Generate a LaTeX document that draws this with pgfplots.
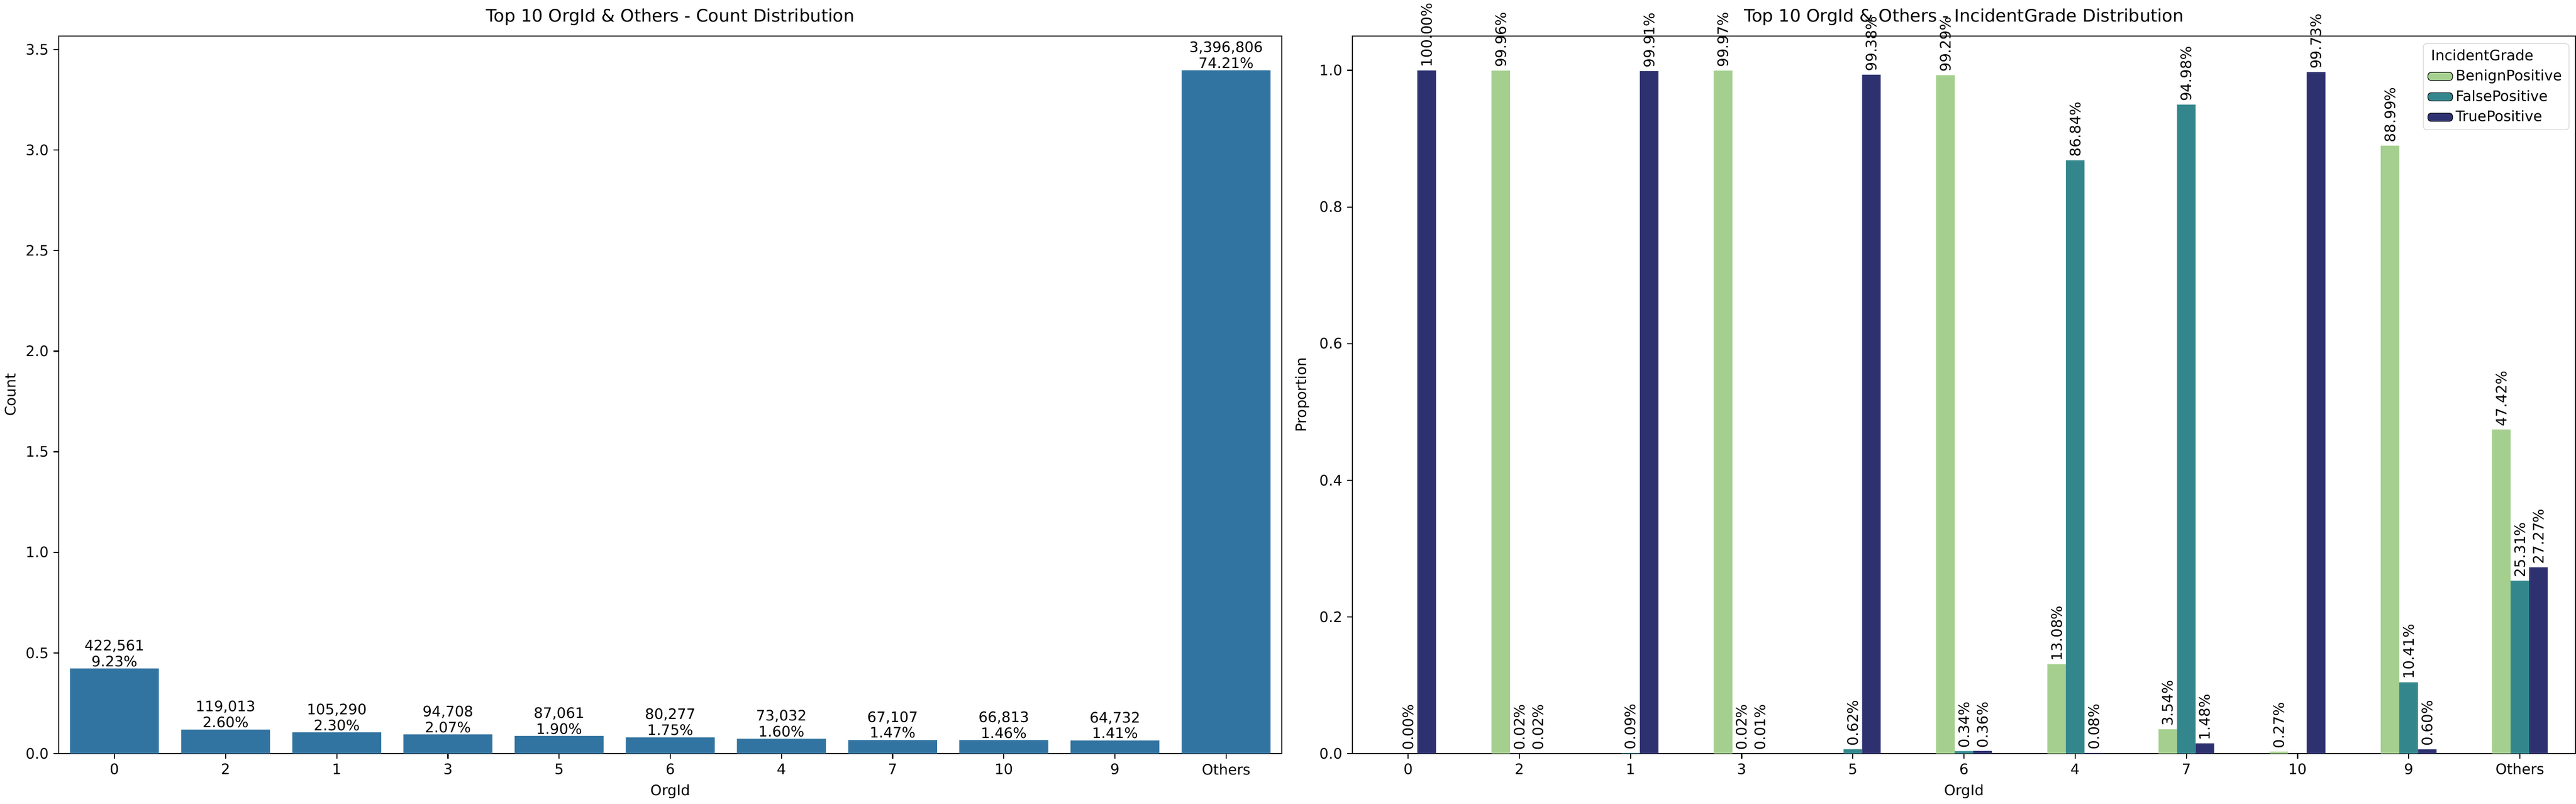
\documentclass[border=0pt]{standalone}
\usepackage{pgfplots}
\pgfplotsset{compat=1.18}
\usepackage{fontspec}
\setmainfont{DejaVu Sans}
\definecolor{cbar}{HTML}{3274A1}
\definecolor{cbp}{HTML}{A5CF8F}
\definecolor{cfp}{HTML}{33878C}
\definecolor{ctp}{HTML}{2E3170}
\pgfplotsset{
  base/.style={
    scale only axis, width=846pt, height=496pt,
    xmin=-0.5, xmax=10.5, xtick={0,...,10},
    xticklabels={0,2,1,3,5,6,4,7,10,9,Others},
    tick label style={font=\fontsize{10}{12}\selectfont},
    label style={font=\fontsize{10}{12}\selectfont},
    title style={font=\fontsize{12}{14}\selectfont, yshift=-2pt},
    /pgf/number format/assume math mode=true,
    tick align=outside, tick pos=left, major tick length=3.5pt,
    xlabel={OrgId}, axis line style={line width=0.8pt},
    every tick/.style={black, line width=0.8pt},
  }
}
\begin{document}
\begin{tikzpicture}
\begin{axis}[base, at={(0pt,0pt)},
  ymin=0, ymax=3566000,
  ytick={0,500000,1000000,1500000,2000000,2500000,3000000,3500000},
  yticklabels={0.0,0.5,1.0,1.5,2.0,2.5,3.0,3.5},
  scaled y ticks=false,
  ylabel={Count},
  title={Top 10 OrgId \& Others - Count Distribution},
  ybar, bar width=0.8, bar shift=0,
  nodes near coords, point meta=explicit symbolic,
  every node near coord/.append style={font=\fontsize{10}{11}\selectfont, align=center, inner sep=1pt},
]
\addplot[fill=cbar, draw=none] coordinates {
 (0,422561) [{422,561\\9.23\%}]
 (1,119013) [{119,013\\2.60\%}]
 (2,105290) [{105,290\\2.30\%}]
 (3,94708) [{94,708\\2.07\%}]
 (4,87061) [{87,061\\1.90\%}]
 (5,80277) [{80,277\\1.75\%}]
 (6,73032) [{73,032\\1.60\%}]
 (7,67107) [{67,107\\1.47\%}]
 (8,66813) [{66,813\\1.46\%}]
 (9,64732) [{64,732\\1.41\%}]
 (10,3396806) [{3,396,806\\74.21\%}]
};
\node[anchor=south west, font=\fontsize{10}{12}\selectfont, inner sep=1pt] at (rel axis cs:0,1) {1e6};
\end{axis}
\begin{axis}[base, at={(895pt,0pt)},
  ymin=0, ymax=1.05, ytick={0,0.2,0.4,0.6,0.8,1.0},
  yticklabel style={/pgf/number format/.cd, fixed, fixed zerofill, precision=1},
  ylabel={Proportion},
  title={Top 10 OrgId \& Others - IncidentGrade Distribution},
  ybar, bar width=0.167,
  nodes near coords, point meta=explicit symbolic,
  every node near coord/.append style={font=\fontsize{10}{11}\selectfont, rotate=90, anchor=west, inner sep=2pt},
  legend style={at={(0.995,0.99)}, anchor=north east, font=\fontsize{10}{12}\selectfont, draw=black!18, rounded corners=2pt, row sep=1pt},
  legend cell align=left,
  area legend,
]
\addlegendimage{empty legend}
\addlegendentry{\hspace{-0.6cm}IncidentGrade}
\addplot[fill=cbp, draw=none, bar shift=-0.167] coordinates {
 (1,0.9996) [99.96\%]
 (3,0.9997) [99.97\%]
 (5,0.9929) [99.29\%]
 (6,0.1308) [13.08\%]
 (7,0.0354) [3.54\%]
 (8,0.0027) [0.27\%]
 (9,0.8899) [88.99\%]
 (10,0.4742) [47.42\%]
};
\addlegendentry{BenignPositive}
\addplot[fill=cfp, draw=none, bar shift=0] coordinates {
 (0,0.0000) [0.00\%]
 (1,0.0002) [0.02\%]
 (2,0.0009) [0.09\%]
 (3,0.0002) [0.02\%]
 (4,0.0062) [0.62\%]
 (5,0.0034) [0.34\%]
 (6,0.8684) [86.84\%]
 (7,0.9498) [94.98\%]
 (9,0.1041) [10.41\%]
 (10,0.2531) [25.31\%]
};
\addlegendentry{FalsePositive}
\addplot[fill=ctp, draw=none, bar shift=0.167] coordinates {
 (0,1.0000) [100.00\%]
 (1,0.0002) [0.02\%]
 (2,0.9991) [99.91\%]
 (3,0.0001) [0.01\%]
 (4,0.9938) [99.38\%]
 (5,0.0036) [0.36\%]
 (6,0.0008) [0.08\%]
 (7,0.0148) [1.48\%]
 (8,0.9973) [99.73\%]
 (9,0.0060) [0.60\%]
 (10,0.2727) [27.27\%]
};
\addlegendentry{TruePositive}
\end{axis}
\end{tikzpicture}
\end{document}
